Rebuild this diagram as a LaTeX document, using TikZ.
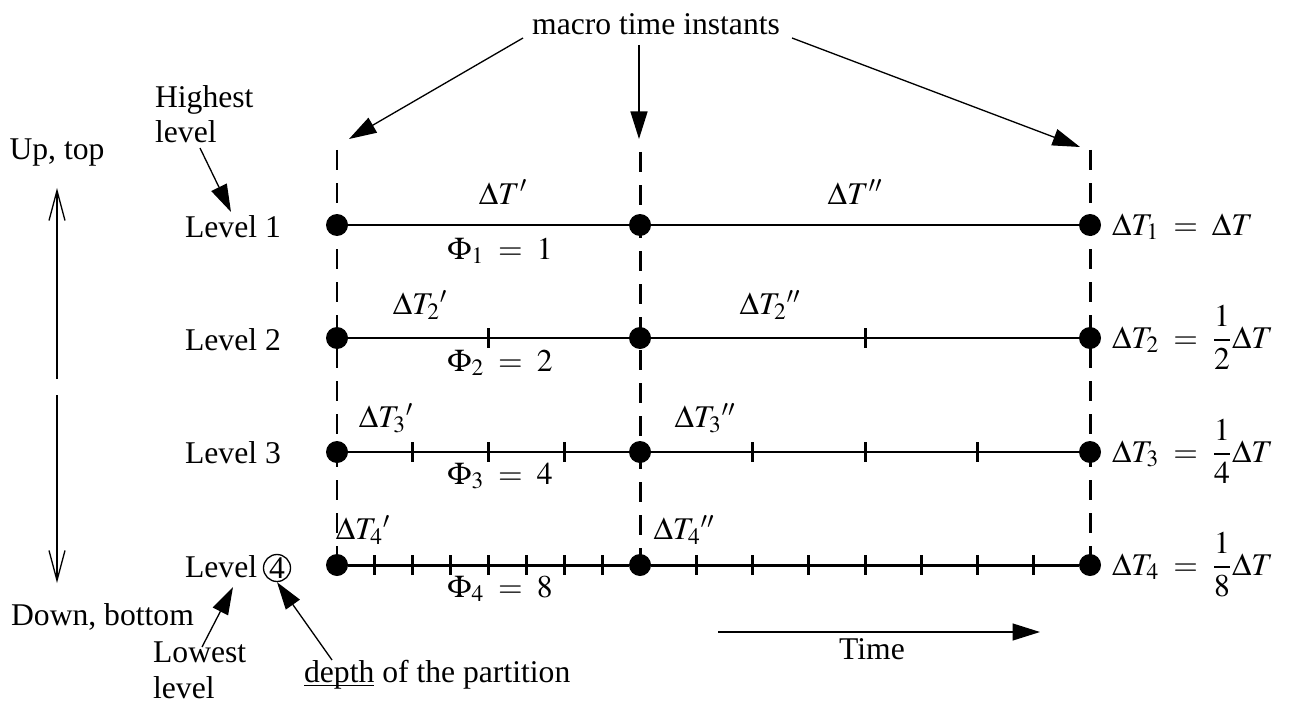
\documentclass[tikz,border=0pt]{standalone}
\usepackage{amsmath}
\usepackage{mathptmx}
\usepackage{fontspec}
\setmainfont{Liberation Serif}
\usepackage{tikz}
\usetikzlibrary{arrows.meta,positioning,calc}
\newcommand{\dT}[2]{\ensuremath{\Delta T_{#1}{}#2}}
\newcommand{\uln}[1]{\setbox0\hbox{#1}\rlap{\rule[-2.2pt]{\wd0}{0.6pt}}#1}
\tikzset{
  lbl/.style={font=\fontsize{18}{20}\selectfont, inner sep=1pt},
  lvl/.style={lbl, anchor=west},
  dot/.style={circle, fill=black, inner sep=0pt, minimum size=4.4mm},
  tline/.style={line width=1.7pt},
  macro/.style={line width=1.7pt, dash pattern=on 4mm off 2.6mm},
  tick/.style={line width=1.7pt},
  pre/.style={-{Triangle[length=5.5mm, width=3.4mm]}, line width=0.75pt},
  barb/.style={-{Straight Barb[length=6mm, width=3.2mm]}, line width=0.75pt},
}
\begin{document}
\begin{tikzpicture}[x=0.2mm, y=-0.2mm]
\useasboundingbox (0,0) rectangle (1291,707);
% time instants
\foreach \l/\y in {1/225, 2/338, 3/452, 4/565} {
  \node[dot] (a\l) at (337,\y) {};
  \node[dot] (b\l) at (640,\y) {};
  \node[dot] (c\l) at (1090,\y) {};
}
\coordinate (ta) at (337,150);
\coordinate (tb) at (640,152);
\coordinate (tc) at (1090,150);
\draw[macro] (ta) -- (a4.center);
\draw[macro] (tb) -- (b4.center);
\draw[macro] (tc) -- (c4.center);
\foreach \l in {1,2,3,4} {
  \draw[tline] (a\l) -- (b\l);
  \draw[tline] (b\l) -- (c\l);
}
% subcycles
\foreach \n/\l in {2/2, 4/3, 8/4} {
  \pgfmathtruncatemacro{\m}{\n-1}
  \foreach \k in {1,...,\m} {
    \draw[tick] ($(a\l.center)!\k/\n!(b\l.center)+(0,-10)$) -- ++(0,20);
    \draw[tick] ($(b\l.center)!\k/\n!(c\l.center)+(0,-10)$) -- ++(0,20);
  }
}
% labels
\node[lvl] (l1) at (183,227) {Level 1};
\node[lvl] (l2) at (183,340) {Level 2};
\node[lvl] (l3) at (183,453) {Level 3};
\node[lvl] (l4) at (183,567) {Level};
\node[lbl, circle, draw, line width=0.75pt, inner sep=0pt, minimum size=5.4mm] (dep) at (277,568) {4};
\node[lbl] (s1a) at (503,192) {$\Delta T'$};
\node[lbl] (s1b) at (855,192) {$\Delta T''$};
\node[lbl] (s2a) at (420,305) {\dT{2}{'}};
\node[lbl] (s2b) at (770,305) {\dT{2}{''}};
\node[lbl] (s3a) at (386,418) {\dT{3}{'}};
\node[lbl] (s3b) at (705,418) {\dT{3}{''}};
\node[lbl] (s4a) at (363,530) {\dT{4}{'}};
\node[lbl] (s4b) at (684,530) {\dT{4}{''}};
\node[lbl] (p1) at (500,251) {$\Phi_1\;=\;1$};
\node[lbl] (p2) at (500,363) {$\Phi_2\;=\;2$};
\node[lbl] (p3) at (500,476) {$\Phi_3\;=\;4$};
\node[lbl] (p4) at (500,589) {$\Phi_4\;=\;8$};
\node[lbl, anchor=base west] (r1) at (1110,235) {$\Delta T_1\;=\;\Delta T$};
\node[lbl, anchor=base west] (r2) at (1110,348) {$\Delta T_2\;=\;\dfrac{1}{2}\Delta T$};
\node[lbl, anchor=base west] (r3) at (1110,462) {$\Delta T_3\;=\;\dfrac{1}{4}\Delta T$};
\node[lbl, anchor=base west] (r4) at (1110,575) {$\Delta T_4\;=\;\dfrac{1}{8}\Delta T$};
% annotations
\node[lbl, anchor=base] (mti) at (656,35) {macro time instants};
\coordinate (ma) at (349,139);
\coordinate (mb) at (639,139);
\coordinate (mc) at (1080,147);
\draw[pre] (523,38) -- (ma);
\draw[pre] (639,45) -- (mb);
\draw[pre] (792,38) -- (mc);
\node[lbl, anchor=base] (up) at (57,160) {Up, top};
\node[lbl, anchor=base west] (down) at (9,625) {Down, bottom};
\coordinate (upt) at (57,188);
\coordinate (dnt) at (57,583);
\draw[barb] (57,379) -- (upt);
\draw[barb] (57,395) -- (dnt);
\node[lbl, anchor=base west, align=left] (hi) at (153,143) {Highest\\level};
\node[lbl, anchor=base west, align=left] (lo) at (151,698) {Lowest\\level};
\node[lbl, anchor=base west] (dp) at (302,682) {\uln{depth} of the partition};
\draw[pre] (200,148) -- (231,212);
\draw[pre] (202,647) -- (233,587);
\draw[pre] (332,660) -- (dep.south);
\coordinate (tm) at (1040,632);
\draw[pre] (718,632) -- (tm);
\node[lbl, anchor=base] (time) at (872,659) {Time};
\end{tikzpicture}
\end{document}
